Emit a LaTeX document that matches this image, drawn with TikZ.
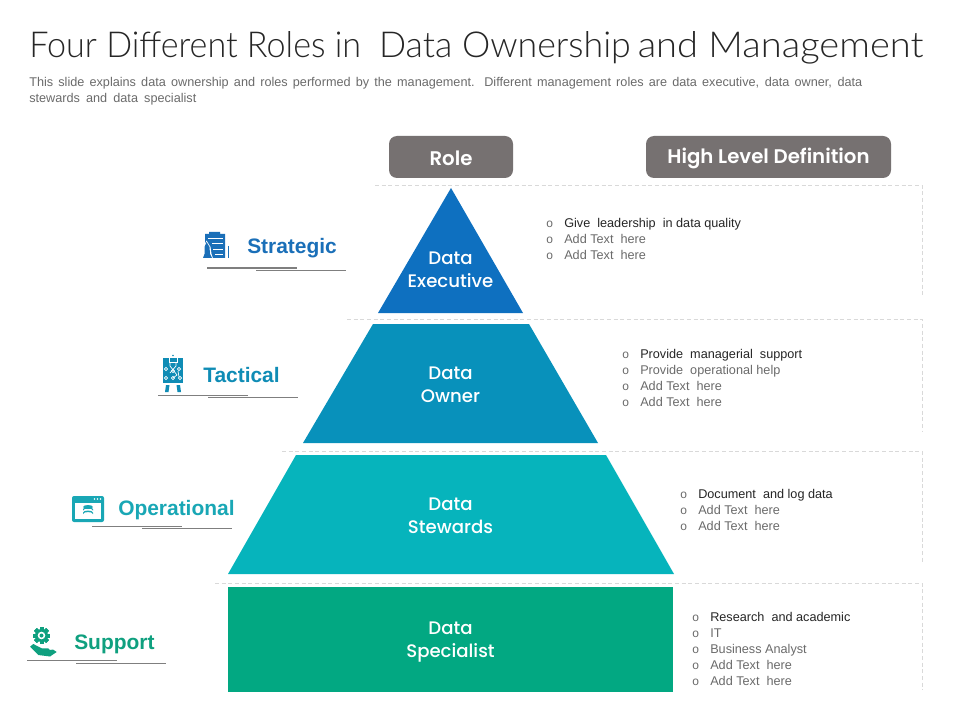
\documentclass[tikz,border=0pt]{standalone}
\usepackage{fontspec}
\setmainfont{Liberation Sans}
\newfontfamily\titlefontA[FakeStretch=0.955]{Lato Light}
\newfontfamily\titlefontB{Lato Light}
\newfontfamily\titlefontC[FakeStretch=1.066]{Lato Light}
\newfontfamily\headfont{Poppins Medium}
\newfontfamily\headboldfont{Poppins SemiBold}
\definecolor{cExec}{HTML}{0E70C0}
\definecolor{cOwner}{HTML}{0891BB}
\definecolor{cStew}{HTML}{06B4BC}
\definecolor{cSpec}{HTML}{02A882}
\definecolor{cHead}{HTML}{767171}
\definecolor{cDash}{HTML}{D9D9D9}
\definecolor{cRule}{HTML}{7F7F7F}
\definecolor{cText}{HTML}{6B6B6B}
\definecolor{cDark}{HTML}{262626}
\definecolor{cStrat}{HTML}{1A6FB8}
\definecolor{cTact}{HTML}{0F8CB5}
\definecolor{cOper}{HTML}{19A7B5}
\definecolor{cSupp}{HTML}{0FA07F}
\tikzset{
  x=0.75pt,y=-0.75pt,
  headbox/.style={fill=cHead,rounded corners=6pt,draw=none},
  headtext/.style={font=\headboldfont\fontsize{14.8}{16}\selectfont,text=white,inner sep=0pt},
  roletext/.style={font=\headfont\fontsize{13.6}{17.3}\selectfont,text=white,align=center,inner sep=0pt},
  guide/.style={draw=cDash,dashed,dash pattern=on 3pt off 2pt,line width=0.6pt},
  rulegray/.style={draw=cRule,line width=0.7pt},
  tier/.style={font=\fontsize{15.7}{18}\selectfont\bfseries,inner sep=0pt,anchor=west},
  itemtext/.style={font=\fontsize{9.5}{12}\selectfont,text=cText,inner sep=0pt,anchor=base west},
  firsttext/.style={itemtext,text=cDark},
  bulmark/.style={font=\fontsize{9}{12}\selectfont,text=cText,inner sep=0pt,anchor=base west},
  desctext/.style={font=\fontsize{9.5}{12}\selectfont,text=cText,inner sep=0pt,anchor=base west},
}
\newcommand{\bul}[3]{\node[bulmark] (m#3) at (#1,#2) {o};}
\begin{document}
\begin{tikzpicture}
\useasboundingbox (0,0) rectangle (960,720);
\fill[white] (0,0) rectangle (960,720);
% title
\node[inner sep=0pt,anchor=base west,text=cDark] (title) at (29,58) {\fontsize{26.8}{30}\selectfont{\titlefontA Four Different Roles in}\hspace{13.5pt}{\titlefontB Data Ownership}\hspace{5.2pt}{\titlefontC and Management}};
\node[desctext] (d1) at (29,87) {\makebox[624.8pt][s]{This slide explains data ownership and roles performed by the management. Different management roles are data executive, data owner, data}};
\node[desctext] (d2) at (29,103) {\makebox[125.3pt][s]{stewards and data specialist}};
% headers
\fill[headbox] (389,136) rectangle (513,178);
\node[headtext] (role) at (451,158) {Role};
\fill[headbox] (646,136) rectangle (891,178);
\node[headtext] (hld) at (768.5,158) {High Level Definition};
% dashed guides
\draw[guide] (375,185) -- (922,185) -- (922,295);
\draw[guide] (347,319) -- (922,319) -- (922,432);
\draw[guide] (282,451) -- (922,451) -- (922,563);
\draw[guide] (215,583) -- (922,583) -- (922,690);
% pyramid
\fill[cExec] (451,188) -- (523,313) -- (378,313) -- cycle;
\fill[cOwner] (373,324) -- (529,324) -- (598,443) -- (303,443) -- cycle;
\fill[cStew] (296,455) -- (606,455) -- (674,574) -- (228,574) -- cycle;
\fill[cSpec] (228,587) rectangle (673,692);
\node[roletext] (r1) at (450.5,270) {Data\\Executive};
\node[roletext] (r2) at (450.5,385) {Data\\Owner};
\node[roletext] (r3) at (450.5,516) {Data\\Stewards};
\node[roletext] (r4) at (450.5,642) {Data\\Specialist};
% items
\bul{546}{228}{a1}\node[firsttext] (a1) at (564,228) {Give\ \ leadership\ \ in data quality};
\bul{546}{244}{a2}\node[itemtext] (a2) at (564,244) {Add Text\ \ here};
\bul{546}{260}{a3}\node[itemtext] (a3) at (564,260) {Add Text\ \ here};
\bul{622}{358}{b1}\node[firsttext] (b1) at (640,358) {Provide\ \ managerial\ \ support};
\bul{622}{374}{b2}\node[itemtext] (b2) at (640,374) {Provide\ \ operational help};
\bul{622}{390}{b3}\node[itemtext] (b3) at (640,390) {Add Text\ \ here};
\bul{622}{406}{b4}\node[itemtext] (b4) at (640,406) {Add Text\ \ here};
\bul{680}{498}{c1}\node[firsttext] (c1) at (698,498) {Document\ \ and log data};
\bul{680}{514}{c2}\node[itemtext] (c2) at (698,514) {Add Text\ \ here};
\bul{680}{530}{c3}\node[itemtext] (c3) at (698,530) {Add Text\ \ here};
\bul{692}{621}{e1}\node[firsttext] (e1) at (710,621) {Research\ \ and academic};
\bul{692}{637}{e2}\node[itemtext] (e2) at (710,637) {IT};
\bul{692}{653}{e3}\node[itemtext] (e3) at (710,653) {Business Analyst};
\bul{692}{669}{e4}\node[itemtext] (e4) at (710,669) {Add Text\ \ here};
\bul{692}{685}{e5}\node[itemtext] (e5) at (710,685) {Add Text\ \ here};
% tier labels
\node[tier,text=cStrat] (t1) at (247,248) {Strategic};
\node[tier,text=cTact] (t2) at (203,375) {Tactical};
\node[tier,text=cOper] (t3) at (118,510.5) {Operational};
\node[tier,text=cSupp] (t4) at (74,644.5) {Support};
% rules
\draw[rulegray,line width=1pt] (207,268) -- (297,268);
\draw[rulegray] (256,270.5) -- (346,270.5);
\draw[rulegray] (158,395.5) -- (248,395.5);
\draw[rulegray] (208,397.5) -- (298,397.5);
\draw[rulegray] (92,526.5) -- (182,526.5);
\draw[rulegray] (142,528.5) -- (232,528.5);
\draw[rulegray] (27,660.5) -- (117,660.5);
\draw[rulegray] (76,663) -- (166,663);
% icon: strategic (clipboard with chess piece)
\fill[cStrat] (205,234) -- (209,234) -- (209,232) -- (220,232) -- (220,234) -- (225,234) -- (225,258) -- (205,258) -- cycle;
\draw[white,line width=0.45pt] (208,238) -- (223,238) (212,243) -- (223,243) (213,249) -- (223,249) (215,254) -- (223,254);
\fill[white] (206.5,240.5) -- (210.5,247) -- (211.5,254) -- (213,258.5) -- (202,258.5) -- (203,254) -- (203.5,247) -- cycle;
\fill[cStrat] (206.5,242) -- (209.5,247) -- (210,254) -- (212,258) -- (203,258) -- (204.5,254) -- (204.5,247) -- cycle;
\draw[cStrat,line width=0.5pt] (228.5,246) -- (228.5,258);
% icon: tactical (board on legs)
\fill[cTact] (163,358) rectangle (183,383);
\fill[cTact] (166,385) -- (169.5,385) -- (168.5,392) -- (165,392) -- cycle;
\fill[cTact] (176.5,385) -- (180,385) -- (181,392) -- (177.5,392) -- cycle;
\draw[white,line width=0.6pt] (169,358) -- (169,362) -- (177,362) -- (177,358);
\draw[white,line width=0.5pt] (170,362) -- (170,366) -- (177,375) -- (173,378) (176,362) -- (176,366) -- (170,373) (178,371) -- (179,377);
\foreach \p in {(166,369),(179,369),(173,378),(166,378),(180,378),(173,371)}
  \draw[white,line width=0.5pt] \p circle (1.6);
\fill[cTact] (173,355.5) circle (0.8);
% icon: operational (browser with database)
\fill[cOper,rounded corners=1.5pt] (72,496) rectangle (104,522);
\fill[white] (75,503) rectangle (101,519);
\fill[white] (94.5,499) circle (0.8) (97.5,499) circle (0.8) (100.5,499) circle (0.8);
\fill[cOper] (88,507) ellipse (5 and 2);
\fill[cOper] (83,509) arc[start angle=180,end angle=360,x radius=5,y radius=2] -- (93,510.5) arc[start angle=0,end angle=-180,x radius=5,y radius=2] -- cycle;
\fill[cOper] (83,512.5) arc[start angle=180,end angle=360,x radius=5,y radius=2] -- (93,514) arc[start angle=0,end angle=-180,x radius=5,y radius=2] -- cycle;
% icon: support (gear over hand)
\foreach \a in {0,45,...,315}
  \fill[cSupp,rotate around={\a:(41.5,635.5)}] (39.5,627) rectangle (43.5,644);
\fill[cSupp] (41.5,635.5) circle (6.5);
\fill[white] (41.5,635.5) circle (3.8);
\fill[cSupp] (41.5,635.5) circle (2);
\fill[cSupp] (30,646.7) -- (33.3,644) -- (41.7,648.3) -- (48.3,648.3) -- (50,650) -- (53,649.5) -- (56.7,652) -- (50,656.5) -- (38.3,655) -- cycle;
\end{tikzpicture}
\end{document}
